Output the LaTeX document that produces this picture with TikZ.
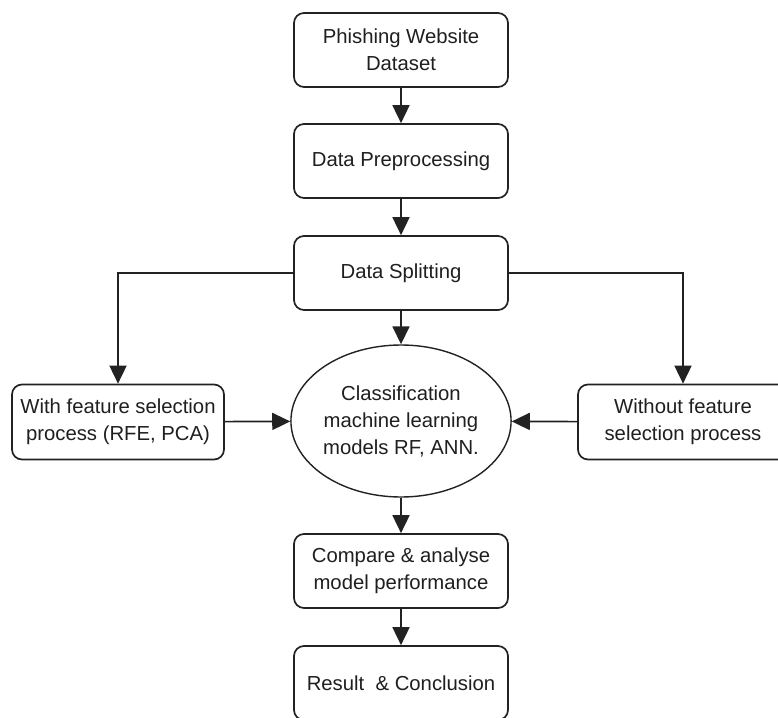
\documentclass[tikz,border=0pt]{standalone}
\usepackage{fontspec}
\setmainfont{Liberation Sans}
\usetikzlibrary{arrows.meta,shapes.geometric}
\definecolor{inkline}{HTML}{222222}
\definecolor{inktext}{HTML}{1F1F1F}
\begin{document}
\begin{tikzpicture}[x=1pt,y=-1pt,
  every node/.style={font=\fontsize{20.3}{27}\selectfont, text=inktext, align=center},
  stepbox/.style={draw=inkline, line width=1.7pt, rounded corners=10pt, fill=white,
    minimum width=214pt, minimum height=74pt, inner sep=2pt},
  sidebox/.style={stepbox, minimum width=212pt, minimum height=75pt},
  modelnode/.style={draw=inkline, line width=1.4pt, ellipse, fill=white,
    minimum width=216pt, minimum height=152pt, inner sep=0pt},
  flow/.style={draw=inkline, line width=1.7pt, -{Triangle[length=18pt,width=17pt]}}
]
\clip (0,0) rectangle (778,717);
\fill[white] (0,0) rectangle (778,717);

\node[stepbox] (data) at (401,50) {Phishing Website\\Dataset};
\node[stepbox] (prep) at (401,161) {Data Preprocessing};
\node[stepbox] (split) at (401,273) {Data Splitting};
\node[modelnode] (model) at (401,421) {Classification\\machine learning\\models RF, ANN.};
\node[sidebox] (withfs) at (118,422) {With feature selection\\process (RFE, PCA)};
\node[sidebox, minimum width=210pt] (withoutfs) at (683,422) {Without feature\\selection process};
\node[stepbox] (compare) at (401,571) {Compare \& analyse\\model performance};
\node[stepbox] (result) at (401,683) {Result~~\& Conclusion};

\draw[flow] (data) -- (prep);
\draw[flow] (prep) -- (split);
\draw[flow] (split) -- (model);
\draw[flow] (split.west) -| (withfs.north);
\draw[flow] (split.east) -| (withoutfs.north);
\draw[flow] (withfs) -- (model);
\draw[flow] (withoutfs) -- (model);
\draw[flow] (model) -- (compare);
\draw[flow] (compare) -- (result);
\end{tikzpicture}
\end{document}
